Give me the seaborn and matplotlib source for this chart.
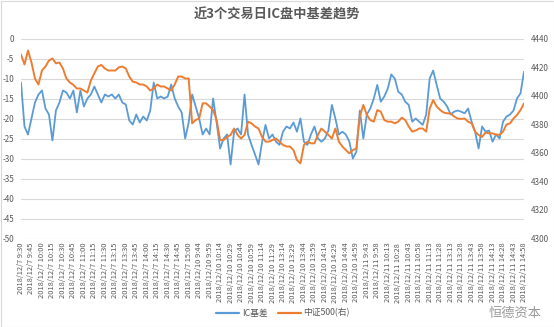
import numpy as np
import pandas as pd
import matplotlib
matplotlib.use("Agg")
import matplotlib.pyplot as plt
from matplotlib.patches import Rectangle
from matplotlib.lines import Line2D
import seaborn as sns

sns.set_theme(style="white")
plt.rcParams["font.family"] = ["Noto Sans CJK SC", "DejaVu Sans"]
plt.rcParams["axes.unicode_minus"] = False

# ---------------- data (5-minute samples) ----------------
basis_day1 = [-11, -22, -24, -20, -16, -14, -13, -17.5, -19, -25.5, -18, -16, -13, -13.5,
              -15, -13, -18.5, -13, -17, -15, -14, -12, -14, -16, -14, -14.5, -14, -15,
              -14, -16, -16.5, -20.5, -21.5, -19, -21, -19.5, -20.5, -18, -11, -15, -14.5,
              -15, -14.5, -11.5, -15, -17, -18.5, -25, -21]
basis_day2 = [-14, -17, -20, -24, -22.5, -24, -15, -21, -27.5, -25, -24, -31.5, -23.3, -22.5,
              -24, -14, -24, -26.6, -29, -31.5, -26, -21.6, -25, -24, -25.8, -26.6, -23.3,
              -22, -22.5, -21, -23.3, -20, -25.8, -26.6, -24, -22, -25, -25.8, -25, -23,
              -16.6, -20, -24, -23.3, -24, -25.8, -30, -28.3]
basis_day3 = [-18, -25, -19, -17.5, -15, -11.6, -15.8, -14.5, -12.5, -9, -10, -13.3, -14,
              -15.8, -16.6, -20.8, -20, -20.8, -21.6, -19, -10, -8, -11.6, -15, -15.8, -17,
              -19, -18.3, -18, -18.3, -18.7, -17.5, -20.8, -23.3, -27.5, -22, -23.3, -23,
              -25.8, -24, -25, -20.8, -19.5, -19, -18, -15, -13.7, -8.3]

csi500_day1 = [4428.8, 4421.8, 4431.6, 4423.2, 4412.0, 4407.8, 4417.6, 4420.4, 4424.6, 4426.0,
               4422.6, 4423.2, 4419.0, 4412.0, 4409.2, 4407.5, 4405.0, 4405.0, 4403.6, 4402.2,
               4410.6, 4415.6, 4420.4, 4421.5, 4419.0, 4417.6, 4417.6, 4417.6, 4419.8, 4420.4,
               4419.0, 4413.4, 4409.8, 4409.2, 4407.8, 4407.8, 4406.4, 4403.6, 4405.0, 4407.8,
               4406.4, 4406.4, 4405.0, 4403.6, 4407.8, 4413.4, 4413.4, 4412.0, 4412.0]
csi500_day2 = [4380.6, 4382.9, 4384.0, 4394.6, 4394.6, 4392.4, 4389.9, 4382.9, 4368.9, 4368.9,
               4371.1, 4372.5, 4377.0, 4372.5, 4370.0, 4372.5, 4381.8, 4380.6, 4378.4, 4377.0,
               4371.1, 4367.8, 4367.8, 4368.9, 4370.0, 4367.8, 4365.5, 4364.4, 4364.4, 4361.9,
               4354.9, 4352.6, 4365.5, 4367.8, 4366.6, 4366.6, 4372.5, 4377.0, 4374.8, 4372.5,
               4370.0, 4377.0, 4367.8, 4364.4, 4361.9, 4359.6, 4361.9, 4363.0]
csi500_day3 = [4385.4, 4393.5, 4386.5, 4382.9, 4381.8, 4389.9, 4388.8, 4382.9, 4381.8, 4381.8,
               4380.6, 4381.8, 4384.6, 4382.9, 4378.4, 4374.8, 4375.6, 4377.0, 4377.0, 4374.8,
               4391.0, 4396.9, 4392.4, 4389.9, 4388.2, 4387.6, 4387.6, 4385.4, 4384.0, 4383.7,
               4384.0, 4381.8, 4380.6, 4374.8, 4372.5, 4371.1, 4374.2, 4373.6, 4373.6, 4372.8,
               4372.5, 4374.8, 4379.8, 4380.6, 4384.0, 4386.5, 4389.9, 4394.6]

tick_labels = [
    "2018/12/7 9:30", "2018/12/7 9:45", "2018/12/7 10:00", "2018/12/7 10:15",
    "2018/12/7 10:30", "2018/12/7 10:45", "2018/12/7 11:00", "2018/12/7 11:15",
    "2018/12/7 11:30", "2018/12/7 13:15", "2018/12/7 13:30", "2018/12/7 13:45",
    "2018/12/7 14:00", "2018/12/7 14:15", "2018/12/7 14:30", "2018/12/7 14:45",
    "2018/12/7 15:00",
    "2018/12/10 9:44", "2018/12/10 9:59", "2018/12/10 10:14", "2018/12/10 10:29",
    "2018/12/10 10:44", "2018/12/10 10:59", "2018/12/10 11:14", "2018/12/10 11:29",
    "2018/12/10 13:14", "2018/12/10 13:29", "2018/12/10 13:44", "2018/12/10 13:59",
    "2018/12/10 14:14", "2018/12/10 14:29", "2018/12/10 14:44", "2018/12/10 14:59",
    "2018/12/11 9:43", "2018/12/11 9:58", "2018/12/11 10:13", "2018/12/11 10:28",
    "2018/12/11 10:43", "2018/12/11 10:58", "2018/12/11 11:13", "2018/12/11 11:28",
    "2018/12/11 13:13", "2018/12/11 13:28", "2018/12/11 13:43", "2018/12/11 13:58",
    "2018/12/11 14:13", "2018/12/11 14:28", "2018/12/11 14:43", "2018/12/11 14:58",
]

left_ticks = list(range(-50, 1, 5))
right_ticks = list(range(4300, 4441, 20))

ic_basis = basis_day1 + basis_day2 + basis_day3
csi500 = csi500_day1 + csi500_day2 + csi500_day3
df = pd.DataFrame({"idx": np.arange(len(ic_basis)), "basis": ic_basis, "csi500": csi500})

BLUE = "#5B9BD5"
ORANGE = "#ED7D31"
GRAY = "#595959"

# ---------------- figure ----------------
W, H = 554, 327
fig = plt.figure(figsize=(W / 100, H / 100), dpi=100)
fig.patch.set_facecolor("white")
ax = fig.add_axes([21 / W, (H - 238.5) / H, 503 / W, 200 / H])
ax2 = ax.twinx()

sns.lineplot(data=df, x="idx", y="basis", ax=ax, color=BLUE, lw=1.3, legend=False)
sns.lineplot(data=df, x="idx", y="csi500", ax=ax2, color=ORANGE, lw=1.4, legend=False)

ax.set_xlim(0, len(ic_basis) - 1)
ax.set_ylim(-50, 0)
ax2.set_ylim(4300, 4440)
ax.set_yticks(left_ticks)
ax2.set_yticks(right_ticks)
ax.set_xticks(np.arange(0, len(ic_basis), 3))
ax.set_xticklabels(tick_labels, rotation=90, fontsize=5.4, color=GRAY)
ax.set_xlabel("")
ax.set_ylabel("")
ax2.set_ylabel("")

ax.yaxis.grid(True, color="#D9D9D9", lw=0.8)
ax.xaxis.grid(False)
ax2.grid(False)
ax.set_axisbelow(True)
for a in (ax, ax2):
    for s in a.spines.values():
        s.set_visible(False)
ax.tick_params(axis="y", length=0, labelsize=5.8, labelcolor=GRAY, pad=5)
ax.tick_params(axis="x", length=0, pad=3)
ax2.tick_params(axis="y", length=0, labelsize=5.8, labelcolor=GRAY, pad=5)

# title
fig.text(0.5, 1 - 15 / H, "近3个交易日IC盘中基差趋势", ha="center", va="center",
         fontsize=9.5, color=GRAY, fontweight="bold")

# legend
handles = [Line2D([0], [0], color=BLUE, lw=1.6), Line2D([0], [0], color=ORANGE, lw=1.6)]
fig.legend(handles, ["IC基差", "中证500(右)"], loc="center", bbox_to_anchor=(283 / W, 1 - 313 / H),
           ncol=2, frameon=False, fontsize=6.3, handlelength=2.6, handletextpad=0.3,
           columnspacing=1.2, labelcolor=GRAY)

# watermark (kept clear of the tick labels)
fig.text(515 / W, 1 - 313 / H, "恒德资本", ha="center", va="center", fontsize=9.5,
         color="#9A9A9A")

# chart border
fig.patches.append(Rectangle((0.5 / W, 0.5 / H), 1 - 1 / W, 1 - 1 / H, transform=fig.transFigure,
                             fill=False, ec="#D9D9D9", lw=0.8))

fig.savefig("out.png", dpi=100)
